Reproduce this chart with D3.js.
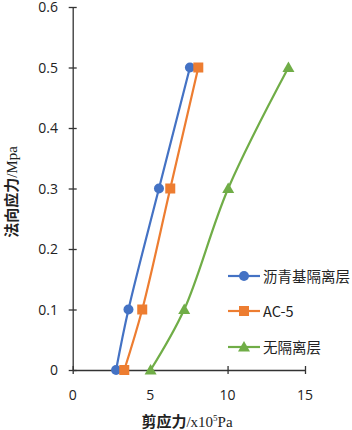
<!DOCTYPE html>
<html lang="zh">
<head>
<meta charset="UTF-8">
<title>法向应力-剪应力</title>
<script src="https://d3js.org/d3.v7.min.js"></script>
<style>
    body { margin: 0; background: #fff; }
    svg { display: block; }
    .tick-label { font: 14px "Open Sans", "Noto Sans", sans-serif; fill: #222; }
    .legend-label { font: 14.5px "Noto Sans CJK SC", "Open Sans", sans-serif; fill: #222; }
</style>
</head>
<body>
<svg width="352" height="430"></svg>
<script>
    // normal stress levels (MPa)
    const normalStress = [0, 0.1, 0.3, 0.5];
    // shear stress (x10^5 Pa) for each interlayer type
    const asphaltLayer = [2.8, 3.6, 5.57, 7.57];
    const ac5 = [3.33, 4.49, 6.3, 8.11];
    const noLayer = [5.03, 7.2, 10.04, 13.93];

    const seriesNames = ["沥青基隔离层", "AC-5", "无隔离层"];
    const seriesColors = ["#4472C4", "#ED7D31", "#70AD47"];
    const xTicks = [0, 5, 10, 15];
    const yTicks = [0, 0.1, 0.2, 0.3, 0.4, 0.5, 0.6];

    const series = [asphaltLayer, ac5, noLayer].map((xs, i) => ({
        name: seriesNames[i],
        color: seriesColors[i],
        points: xs.map((x, j) => ({ x: x, y: normalStress[j] }))
    }));

    const svg = d3.select("svg");
    const x = d3.scaleLinear().domain([0, 15]).range([72.7, 305]);
    const y = d3.scaleLinear().domain([0, 0.6]).range([370, 7]);

    // axes (ticks cross the axis line)
    const xAxis = svg.append("g").attr("transform", `translate(0,${y(0)})`)
        .call(d3.axisBottom(x).tickValues(xTicks).tickSizeInner(4).tickSizeOuter(0).tickFormat(""));
    xAxis.selectAll(".tick line").attr("y1", -4);
    const yAxis = svg.append("g").attr("transform", `translate(${x(0)},0)`)
        .call(d3.axisLeft(y).tickValues(yTicks).tickSizeInner(4).tickSizeOuter(0).tickFormat(""));
    yAxis.selectAll(".tick line").attr("x1", 4);
    svg.selectAll(".domain, .tick line").attr("stroke", "#333").attr("stroke-width", 1.3);

    svg.append("g").selectAll("text").data(xTicks).join("text")
        .attr("class", "tick-label")
        .attr("x", d => x(d)).attr("y", 400)
        .attr("text-anchor", "middle")
        .text(d => d);
    svg.append("g").selectAll("text").data(yTicks).join("text")
        .attr("class", "tick-label")
        .attr("x", 58).attr("y", d => y(d) + 5)
        .attr("text-anchor", "end")
        .text(d => d);

    // axis titles
    const xt = svg.append("text").attr("x", 187).attr("y", 427).attr("text-anchor", "middle")
        .style("font-size", "15px").attr("fill", "#222");
    xt.append("tspan").style("font-family", "'Noto Sans CJK SC'").style("font-weight", "bold").text("剪应力");
    xt.append("tspan").style("font-family", "'Liberation Serif'").text("/x10");
    xt.append("tspan").style("font-family", "'Liberation Serif'").style("font-size", "9px").attr("dy", -6).text("5");
    xt.append("tspan").style("font-family", "'Liberation Serif'").attr("dy", 6).text("Pa");

    const yt = svg.append("text").attr("transform", "translate(17,192) rotate(-90)")
        .attr("text-anchor", "middle").style("font-size", "15px").attr("fill", "#222");
    yt.append("tspan").style("font-family", "'Noto Sans CJK SC'").style("font-weight", "bold").text("法向应力");
    yt.append("tspan").style("font-family", "'Liberation Serif'").text("/Mpa");

    // lines
    const line = d3.line().x(d => x(d.x)).y(d => y(d.y)).curve(d3.curveCatmullRom.alpha(0.5));
    svg.append("g").selectAll("path").data(series).join("path")
        .attr("d", d => line(d.points))
        .attr("fill", "none")
        .attr("stroke", d => d.color)
        .attr("stroke-width", 2.2);

    function drawMarker(g, i, color) {
        if (i === 0) g.append("circle").attr("r", 5).attr("fill", color);
        else if (i === 1) g.append("rect").attr("x", -5).attr("y", -5).attr("width", 10).attr("height", 10).attr("fill", color);
        else g.append("path").attr("d", "M0,-6L6,4.5L-6,4.5Z").attr("fill", color);
    }

    series.forEach((s, i) => {
        s.points.forEach(p => {
            const g = svg.append("g").attr("transform", `translate(${x(p.x)},${y(p.y)})`);
            drawMarker(g, i, s.color);
        });
    });

    // legend
    const legendY = [276, 311, 347];
    series.forEach((s, i) => {
        const g = svg.append("g").attr("transform", `translate(0,${legendY[i]})`);
        g.append("line").attr("x1", 228).attr("x2", 260).attr("stroke", s.color).attr("stroke-width", 2.2);
        drawMarker(g.append("g").attr("transform", "translate(244,0)"), i, s.color);
        g.append("text").attr("class", "legend-label").attr("x", 263).attr("y", 5.5).text(s.name);
    });
</script>
</body>
</html>
